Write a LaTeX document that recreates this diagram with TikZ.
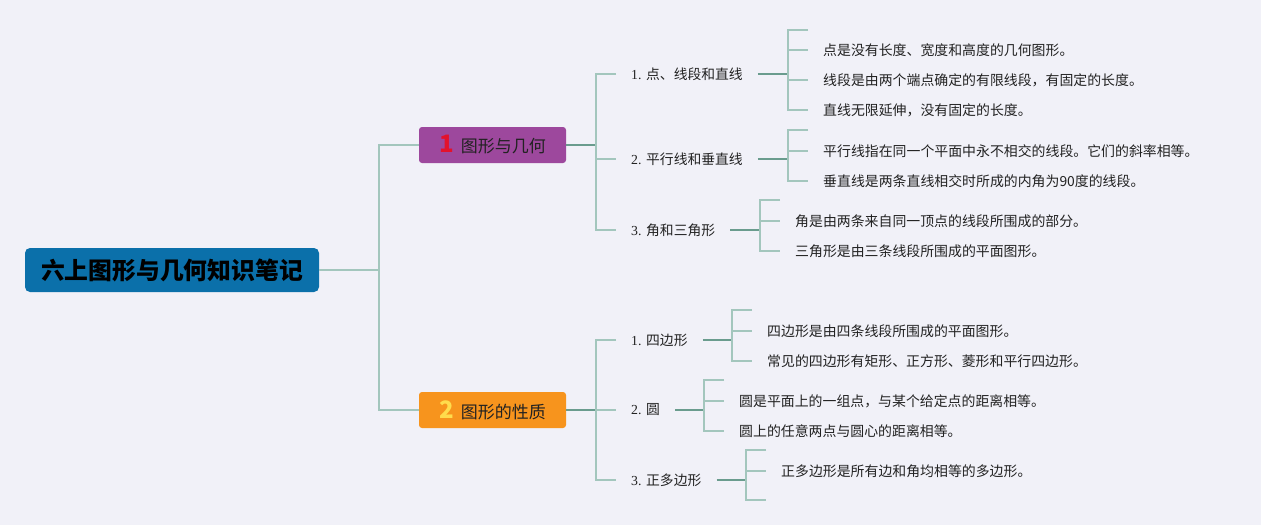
\documentclass[tikz,border=0pt]{standalone}
\usepackage{fontspec}
\setmainfont{Liberation Serif}
\newfontfamily\cjk{Noto Sans CJK SC}
\usetikzlibrary{calc}
\definecolor{bg}{HTML}{F1F1F8}
\definecolor{rootblue}{HTML}{0B70AA}
\definecolor{purp}{HTML}{9D489D}
\definecolor{orng}{HTML}{F7941D}
\definecolor{lite}{HTML}{A3C6BD}
\definecolor{dark}{HTML}{6A9C8E}
\definecolor{numred}{HTML}{E3122C}
\definecolor{numyel}{HTML}{FFDC4C}
\definecolor{txt}{HTML}{222222}
\tikzset{
  lite line/.style={draw=lite, line width=1.5pt},
  dark line/.style={draw=dark, line width=1.8pt},
  rootbox/.style={fill=rootblue, rounded corners=5pt, minimum width=294pt, minimum height=44pt, inner sep=0pt, text=black, font=\cjk\bfseries\fontsize{23.8}{24}\selectfont},
  topicbox/.style={rounded corners=3pt, minimum width=147pt, minimum height=36pt, inner sep=0pt, text=txt, font=\cjk\fontsize{17}{17}\selectfont},
  sublabel/.style={anchor=west, inner xsep=15pt, inner ysep=0pt, text=txt, font=\fontsize{13.8}{14}\selectfont},
  leaf/.style={anchor=west, inner xsep=15pt, inner ysep=0pt, text=txt, font=\cjk\fontsize{13.9}{14}\selectfont},
}
\begin{document}
\begin{tikzpicture}[x=1pt,y=-1pt]
\fill[bg] (0,0) rectangle (1261,525);
\useasboundingbox (0,0) rectangle (1261,525);

% root and topics
\node[rootbox] (root) at (172,270) {六上图形与几何知识笔记};
\node[topicbox, fill=purp] (c1) at (492.5,145) {{\bfseries\fontsize{24}{24}\selectfont\textcolor{numred}{1}}\hspace{7pt}图形与几何};
\node[topicbox, fill=orng] (c2) at (492.5,410) {{\bfseries\fontsize{24}{24}\selectfont\textcolor{numyel}{2}}\hspace{7pt}图形的性质};

\coordinate (j0) at (379,270);
\draw[lite line] (root.east) -- (j0);
\draw[lite line] (j0) |- (c1.west);
\draw[lite line] (j0) |- (c2.west);

% subtopics of 1
\node[sublabel] (s11) at (616,74) {1. {\cjk 点、线段和直线}};
\node[sublabel] (s12) at (616,159) {2. {\cjk 平行线和垂直线}};
\node[sublabel] (s13) at (616,230) {3. {\cjk 角和三角形}};
\coordinate (j1) at (596,145);
\draw[dark line] (c1.east) -- (j1);
\draw[lite line] (s11.west) -| (j1) |- (s13.west);
\draw[lite line] (j1) |- (s12.west);

% subtopics of 2
\node[sublabel] (s21) at (616,340) {1. {\cjk 四边形}};
\node[sublabel] (s22) at (616,410) {2. {\cjk 圆}};
\node[sublabel] (s23) at (616,480) {3. {\cjk 正多边形}};
\coordinate (j2) at (596,410);
\draw[dark line] (c2.east) -- (j2);
\draw[lite line] (s21.west) -| (j2) |- (s23.west);
\draw[lite line] (j2) |- (s22.west);

% leaves of s11
\node[leaf] (l111) at (808,50) {点是没有长度、宽度和高度的几何图形。};
\node[leaf] (l112) at (808,80) {线段是由两个端点确定的有限线段，有固定的长度。};
\node[leaf] (l113) at (808,110) {直线无限延伸，没有固定的长度。};
\coordinate (b11) at (788,74);
\coordinate (k11) at (808,30);
\draw[dark line] (s11.east) -- (b11);
\draw[lite line] (k11) -| (b11) |- (l113.west);
\draw[lite line] (b11) |- (l111.west);
\draw[lite line] (b11) |- (l112.west);

% leaves of s12
\node[leaf] (l121) at (808,151) {平行线指在同一个平面中永不相交的线段。它们的斜率相等。};
\node[leaf] (l122) at (808,181) {垂直线是两条直线相交时所成的内角为90度的线段。};
\coordinate (b12) at (788,159);
\coordinate (k12) at (808,130);
\draw[dark line] (s12.east) -- (b12);
\draw[lite line] (k12) -| (b12) |- (l122.west);
\draw[lite line] (b12) |- (l121.west);

% leaves of s13
\node[leaf] (l131) at (780,221) {角是由两条来自同一顶点的线段所围成的部分。};
\node[leaf] (l132) at (780,251) {三角形是由三条线段所围成的平面图形。};
\coordinate (b13) at (760,230);
\coordinate (k13) at (780,200);
\draw[dark line] (s13.east) -- (b13);
\draw[lite line] (k13) -| (b13) |- (l132.west);
\draw[lite line] (b13) |- (l131.west);

% leaves of s21
\node[leaf] (l211) at (752,331) {四边形是由四条线段所围成的平面图形。};
\node[leaf] (l212) at (752,361) {常见的四边形有矩形、正方形、菱形和平行四边形。};
\coordinate (b21) at (732,340);
\coordinate (k21) at (752,310);
\draw[dark line] (s21.east) -- (b21);
\draw[lite line] (k21) -| (b21) |- (l212.west);
\draw[lite line] (b21) |- (l211.west);

% leaves of s22
\node[leaf] (l221) at (724,401) {圆是平面上的一组点，与某个给定点的距离相等。};
\node[leaf] (l222) at (724,431) {圆上的任意两点与圆心的距离相等。};
\coordinate (b22) at (704,410);
\coordinate (k22) at (724,380);
\draw[dark line] (s22.east) -- (b22);
\draw[lite line] (k22) -| (b22) |- (l222.west);
\draw[lite line] (b22) |- (l221.west);

% leaves of s23
\node[leaf] (l231) at (766,471) {正多边形是所有边和角均相等的多边形。};
\coordinate (b23) at (746,480);
\coordinate (k23a) at (766,450);
\coordinate (k23b) at (766,500);
\draw[dark line] (s23.east) -- (b23);
\draw[lite line] (k23a) -| (b23) |- (k23b);
\draw[lite line] (b23) |- (l231.west);
\end{tikzpicture}
\end{document}
